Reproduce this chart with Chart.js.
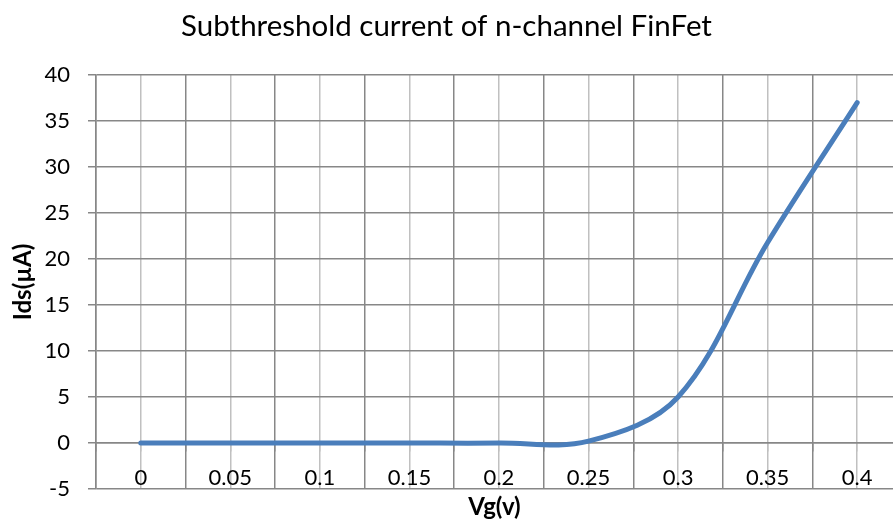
<!DOCTYPE html>
<html>
<head>
<meta charset="utf-8">
<script src="https://cdn.jsdelivr.net/npm/chart.js@4/dist/chart.umd.min.js"></script>
<style>
  html, body { margin: 0; padding: 0; background: #fff; }
  #wrap { width: 893px; height: 528px; }
</style>
</head>
<body>
<div id="wrap"><canvas id="c" width="893" height="528"></canvas></div>
<script>
// ---- data ----
const vg = [0, 0.05, 0.1, 0.15, 0.2, 0.25, 0.3, 0.35, 0.4];
const ids = [0, 0, 0, 0, 0, 0.2, 5, 21.8, 37];
const xTickLabels = ['0', '0.05', '0.1', '0.15', '0.2', '0.25', '0.3', '0.35', '0.4'];
const xGridValues = [-0.025, 0, 0.025, 0.05, 0.075, 0.1, 0.125, 0.15, 0.175, 0.2, 0.225, 0.25, 0.275, 0.3, 0.325, 0.35, 0.375, 0.4];
const yTicks = [-5, 0, 5, 10, 15, 20, 25, 30, 35, 40];

const chartTitle = 'Subthreshold current of n-channel FinFet';
const xTitle = 'Vg(v)';
const yTitle = 'Ids(µA)';

const DARK = '#878787';
const LIGHT = '#c0c0c0';
const FONT = 'Lato';

function isLabelled(v) {
  return vg.some(c => Math.abs(c - v) < 1e-9);
}

const points = vg.map((x, i) => ({ x: x, y: ids[i] }));

new Chart(document.getElementById('c'), {
  type: 'line',
  data: {
    datasets: [{
      data: points,
      xAxisID: 'x',
      yAxisID: 'y',
      borderColor: '#4a7ebb',
      borderWidth: 5,
      borderCapStyle: 'round',
      borderJoinStyle: 'round',
      pointRadius: 0,
      pointHoverRadius: 0,
      tension: 0.35,
      fill: false
    }]
  },
  options: {
    responsive: false,
    animation: false,
    events: [],
    layout: { padding: { left: 0, right: 0, top: 0, bottom: 0 } },
    plugins: {
      legend: { display: false },
      tooltip: { enabled: false },
      title: {
        display: true,
        text: chartTitle,
        color: '#000',
        font: { family: FONT, size: 29.5, weight: 'normal', lineHeight: 1.2 },
        padding: { top: 9, bottom: 30.6 }
      }
    },
    scales: {
      x: {
        type: 'linear',
        position: { y: 0 },
        min: -0.025,
        max: 0.42,
        afterBuildTicks: s => { s.ticks = xGridValues.map(v => ({ value: v })); },
        ticks: {
          autoSkip: false,
          maxRotation: 0,
          color: '#000',
          padding: 14,
          font: { family: FONT, size: 22 },
          callback: function (v) {
            const i = vg.findIndex(c => Math.abs(c - v) < 1e-9);
            return i >= 0 ? xTickLabels[i] : '';
          }
        },
        grid: {
          color: ctx => (ctx.tick && isLabelled(ctx.tick.value)) ? LIGHT : DARK,
          lineWidth: 1.5,
          tickLength: 8,
          drawTicks: true
        },
        border: { display: true, color: DARK, width: 1.5 }
      },
      x2: {
        type: 'linear',
        position: 'bottom',
        min: 0,
        max: 1,
        ticks: { display: false },
        grid: { display: false, drawTicks: false },
        border: { display: false },
        afterFit: s => { s.height = 39; },
        title: {
          display: true,
          text: xTitle,
          color: '#000',
          font: { family: FONT, size: 24, weight: 'bold', lineHeight: 1.2 },
          padding: { top: 0, bottom: 6 }
        }
      },
      y: {
        type: 'linear',
        position: 'left',
        min: -5,
        max: 40,
        afterBuildTicks: s => { s.ticks = yTicks.map(v => ({ value: v })); },
        afterFit: s => { s.width = 96; },
        ticks: {
          color: '#000',
          padding: 18,
          font: { family: FONT, size: 22 }
        },
        grid: {
          color: DARK,
          lineWidth: 1.5,
          tickLength: 8
        },
        border: { display: true, color: DARK, width: 1.5 },
        title: {
          display: true,
          text: yTitle,
          color: '#000',
          font: { family: FONT, size: 24, weight: 'bold', lineHeight: 1.2 },
          padding: { top: 9, bottom: 0 }
        }
      }
    }
  }
});
</script>
</body>
</html>
